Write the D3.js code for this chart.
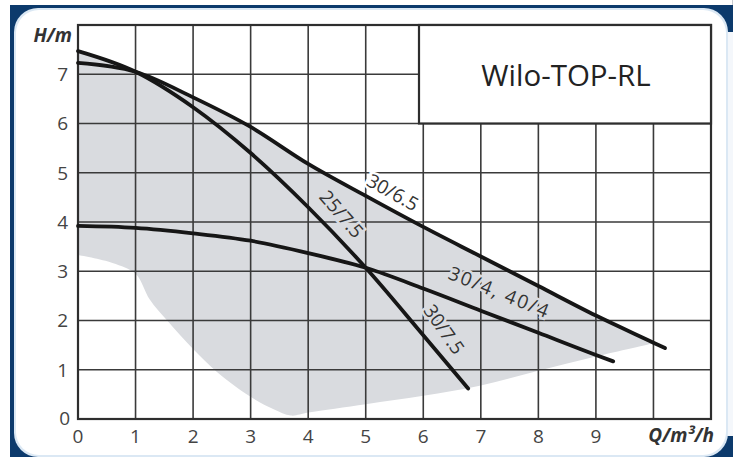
<!DOCTYPE html>
<html><head><meta charset="utf-8">
<script src="https://cdn.jsdelivr.net/npm/d3@7"></script>
<style>
html,body{margin:0;padding:0;background:#fff;}
svg{display:block;}
text{font-family:"Open Sans","DejaVu Sans",sans-serif;}
</style></head>
<body>
<svg id="chart" width="737" height="457"></svg>
<script>
// ---------- data ----------
const qTicks = [0,1,2,3,4,5,6,7,8,9];
const hTicks = [0,1,2,3,4,5,6,7];
const qGrid = [1,2,3,4,5,6,7,8,9,10];
const hGrid = [1,2,3,4,5,6,7];
const title = "Wilo-TOP-RL";
const xAxisLabel = "Q/m³/h";
const yAxisLabel = "H/m";
// curve 30/6.5
const curve30_65 = [[0,7.23],[1,7.05],[2,6.53],[3,5.93],[4,5.18],[5,4.53],[6,3.9],[7,3.3],[8,2.7],[9,2.1],[10,1.55],[10.2,1.44]];
// curve 25/7.5 , 30/7.5
const curve75 = [[0,7.47],[1,7.05],[2,6.33],[3,5.4],[4,4.3],[5,3.07],[6,1.7],[6.78,0.62]];
// curve 30/4, 40/4
const curve30_4 = [[0,3.92],[1,3.88],[2,3.77],[3,3.62],[4,3.37],[5,3.07],[6,2.65],[7,2.2],[8,1.75],[9,1.3],[9.3,1.17]];
// grey operating field: upper envelope and lower boundary
const fieldUpper = [[0,7.47],[0.5,7.3],[1,7.05],[2,6.53],[3,5.93],[4,5.18],[5,4.53],[6,3.9],[7,3.3],[8,2.7],[9,2.1],[10,1.54]];
const fieldLower = [[10,1.54],[9,1.27],[8,0.98],[7,0.68],[6,0.47],[5,0.3],[4,0.13],[3.7,0.07],[3.4,0.2],[3,0.45],[2.42,0.95],[2,1.42],[1.55,2.0],[1.25,2.42],[1,2.95],[0.6,3.17],[0,3.33]];
const curveLabels = ["30/6.5","25/7.5","30/4, 40/4","30/7.5"];

// ---------- layout ----------
const svg = d3.select("#chart");
const x = d3.scaleLinear().domain([0,11]).range([78,711]);
const y = d3.scaleLinear().domain([0,8]).range([419,25]);
const navy = "#0c3a6c";
const grid = "#3a3a3a";
const fieldFill = "#d9dbdf";

// frame
svg.append("rect").attr("x",10).attr("y",5).attr("width",723).attr("height",452).attr("fill",navy);
svg.append("rect").attr("x",726).attr("y",32).attr("width",7).attr("height",404).attr("fill","#f4f7fb");
svg.append("rect").attr("x",14).attr("y",8).attr("width",714).attr("height",449).attr("rx",24).attr("fill","#dbe8f4");
svg.append("rect").attr("x",16).attr("y",10).attr("width",710).attr("height",445).attr("rx",23).attr("fill","#ffffff");
svg.append("line").attr("x1",732.5).attr("x2",732.5).attr("y1",0).attr("y2",5).attr("stroke","#c8ccd2");

// plot background
svg.append("rect").attr("x",x(0)).attr("y",y(8)).attr("width",x(11)-x(0)).attr("height",y(0)-y(8)).attr("fill","#fff");

// grey field
const cr = d3.line().x(d=>x(d[0])).y(d=>y(d[1])).curve(d3.curveCatmullRom.alpha(0.5));
const fieldPath = cr(fieldUpper) + "L" + cr(fieldLower).slice(1) + "Z";
svg.append("path").attr("d",fieldPath).attr("fill",fieldFill);

// grid
svg.append("g").selectAll("line").data(qGrid).join("line")
  .attr("x1",d=>x(d)).attr("x2",d=>x(d)).attr("y1",y(0)).attr("y2",y(8))
  .attr("stroke",grid).attr("stroke-width",1.6);
svg.append("g").selectAll("line").data(hGrid).join("line")
  .attr("x1",x(0)).attr("x2",x(11)).attr("y1",d=>y(d)).attr("y2",d=>y(d))
  .attr("stroke",grid).attr("stroke-width",1.6);
svg.append("rect").attr("x",x(0)).attr("y",y(8)).attr("width",x(11)-x(0)).attr("height",y(0)-y(8))
  .attr("fill","none").attr("stroke","#2e2e2e").attr("stroke-width",2.2);

// curves
const ln = d3.line().x(d=>x(d[0])).y(d=>y(d[1])).curve(d3.curveMonotoneX);
[curve30_65, curve75, curve30_4].forEach(c=>{
  svg.append("path").attr("d",ln(c)).attr("fill","none").attr("stroke","#161616")
    .attr("stroke-width",3.8).attr("stroke-linecap","round");
});

// curve labels
const labelLayout = [
  {q:5.47,h:4.6,rot:29,halo:"#fff",len:null},
  {q:4.58,h:4.16,rot:49,halo:fieldFill,len:null},
  {q:7.31,h:2.58,rot:22,halo:fieldFill,len:106},
  {q:6.36,h:1.82,rot:55,halo:fieldFill,len:null}
];
curveLabels.forEach((t,i)=>{
  const L = labelLayout[i];
  const tx = svg.append("text").attr("transform",`translate(${x(L.q)},${y(L.h)}) rotate(${L.rot})`)
    .attr("text-anchor","middle").attr("dy","0.35em")
    .attr("font-size",19).attr("fill","#333")
    .attr("stroke",L.halo).attr("stroke-width",5).attr("paint-order","stroke")
    .text(t);
  if (L.len) tx.attr("textLength",L.len).attr("lengthAdjust","spacing");
});

// legend / title box
svg.append("rect").attr("x",419).attr("y",y(8)).attr("width",x(11)-419).attr("height",y(6)-y(8))
  .attr("fill","#fff").attr("stroke","#2e2e2e").attr("stroke-width",2.2);
svg.append("text").attr("x",(419+x(11))/2 + 1).attr("y",(y(8)+y(6))/2 + 1).attr("dy","0.36em")
  .attr("text-anchor","middle").attr("font-size",29.5).attr("fill","#222").text(title);

// tick labels
svg.append("g").selectAll("text").data(hTicks).join("text")
  .attr("x",d=> d===0 ? 70 : 68).attr("y",d=> d===0 ? y(0)-1 : y(d)).attr("dy","0.36em")
  .attr("text-anchor","end").attr("font-size",19).attr("fill","#444").text(d=>d);
svg.append("g").selectAll("text").data(qTicks).join("text")
  .attr("x",d=>x(d)).attr("y",y(0)+17).attr("dy","0.36em")
  .attr("text-anchor","middle").attr("font-size",19).attr("fill","#444").text(d=>d);
svg.append("text").attr("x",72).attr("y",42).attr("text-anchor","end")
  .attr("font-size",19).attr("font-weight","bold").attr("font-style","italic").attr("fill","#333").text(yAxisLabel);
svg.append("text").attr("x",714).attr("y",442).attr("text-anchor","end")
  .attr("font-size",19).attr("font-weight","bold").attr("font-style","italic").attr("fill","#333").text(xAxisLabel);
</script>
</body></html>
